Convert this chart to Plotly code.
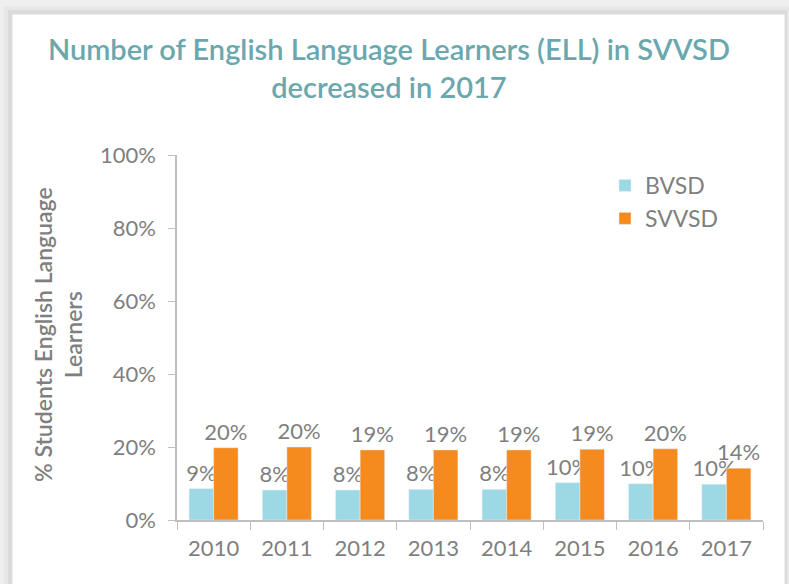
import plotly.graph_objects as go

years = ["2010", "2011", "2012", "2013", "2014", "2015", "2016", "2017"]
bvsd = [8.6, 8.2, 8.2, 8.4, 8.4, 10.2, 9.9, 9.8]
svvsd = [19.8, 20.0, 19.2, 19.2, 19.2, 19.4, 19.5, 14.2]
y_ticks = [0, 20, 40, 60, 80, 100]
y_tick_labels = ["0%", "20%", "40%", "60%", "80%", "100%"]

GRAY = "#7f7f7f"
FONT = "Lato"

L, R, T, B = 177, 26, 155, 64
W, H = 789, 584
pw, ph = W - L - R, H - T - B

def px_x(x):
    return (x - L) / pw

def px_y(y):
    return (H - B - y) / ph

fig = go.Figure()
fig.add_trace(go.Bar(
    x=years, y=bvsd, name="BVSD", marker_color="#9dd8e5",
    texttemplate="%{y:.0f}%", textposition="outside", constraintext="none",
    textfont=dict(family=FONT, size=22, color=GRAY), cliponaxis=False,
))
fig.add_trace(go.Bar(
    x=years, y=svvsd, name="SVVSD", marker_color="#f58b1f",
    texttemplate="%{y:.0f}%", textposition="outside", constraintext="none",
    textfont=dict(family=FONT, size=22, color=GRAY), cliponaxis=False,
))

shapes = [
    dict(type="rect", xref="paper", yref="paper", layer="below",
         x0=px_x(4), x1=px_x(789), y0=px_y(700), y1=px_y(6),
         fillcolor="rgba(0,0,0,0.03)", line_width=0),
    dict(type="rect", xref="paper", yref="paper", layer="below",
         x0=px_x(8), x1=px_x(787), y0=px_y(700), y1=px_y(10),
         fillcolor="rgba(0,0,0,0.05)", line_width=0),
    dict(type="rect", xref="paper", yref="paper", layer="below",
         x0=px_x(12), x1=px_x(785), y0=px_y(700), y1=px_y(14),
         fillcolor="white", line=dict(color="#dcdcdc", width=1)),
]

annotations = [
    dict(text="% Students English Language<br>Learners", xref="paper", yref="paper",
         x=px_x(58), y=px_y(335), xanchor="center", yanchor="middle",
         textangle=-90, showarrow=False,
         font=dict(family=FONT, size=23, color=GRAY, weight=600)),
]

fig.update_layout(
    width=W, height=H,
    margin=dict(l=L, r=R, t=T, b=B, autoexpand=False),
    paper_bgcolor="#efefef", plot_bgcolor="rgba(0,0,0,0)",
    barmode="group", bargap=0.33, bargroupgap=0,
    font=dict(family=FONT, color=GRAY),
    title=dict(
        text="Number of English Language Learners (ELL) in SVVSD<br>decreased in 2017",
        x=0.493, xref="container", xanchor="center",
        y=1 - 60 / H, yref="container", yanchor="top",
        font=dict(family=FONT, size=29, color="#6aa8ae", weight=600),
    ),
    showlegend=True,
    legend=dict(
        x=px_x(605), y=px_y(164), xanchor="left", yanchor="top",
        bgcolor="rgba(0,0,0,0)", font=dict(family=FONT, size=23, color=GRAY),
        tracegroupgap=4,
    ),
    shapes=shapes,
    annotations=annotations,
)

fig.update_xaxes(
    type="category", showline=True, linecolor="#bfbfbf", linewidth=1.5,
    ticks="outside", tickson="boundaries", ticklen=8, tickcolor="#bfbfbf",
    tickfont=dict(family=FONT, size=22, color=GRAY), showgrid=False, automargin=False,
    ticklabelstandoff=8,
)
fig.update_yaxes(
    range=[0, 100], tickvals=y_ticks, ticktext=y_tick_labels,
    showline=True, linecolor="#bfbfbf", linewidth=1.5,
    ticks="outside", ticklen=7, tickcolor="#bfbfbf",
    tickfont=dict(family=FONT, size=22, color=GRAY), showgrid=False, zeroline=False,
    automargin=False, ticklabelstandoff=8,
)

fig.write_html("out.html", config={"displayModeBar": False},
               post_script="document.body.style.margin='0';")
